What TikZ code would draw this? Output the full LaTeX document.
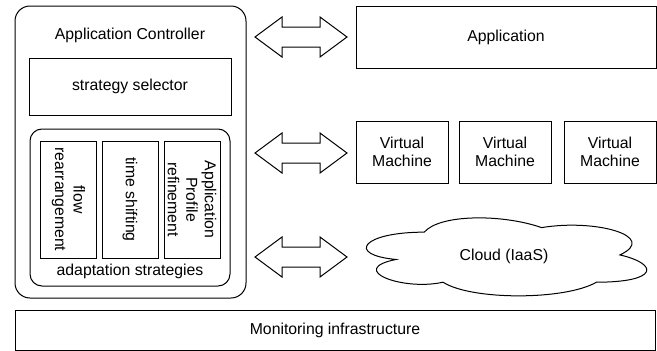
\documentclass[tikz,border=0pt]{standalone}
\usepackage{fontspec}
\setmainfont{Liberation Sans}
\begin{document}
\begin{tikzpicture}[x=1pt,y=-1pt,
  every node/.style={font=\fontsize{15.8pt}{18.5pt}\selectfont, inner sep=0pt, outer sep=0pt},
  box/.style={draw=black, line width=1pt, align=center},
  rbox/.style={draw=black, line width=1pt, rounded corners=#1},
  vtext/.style={rotate=-90, align=center},
  dbl/.pic={\draw[line width=1pt, line join=miter, fill=white]
     (-46,0) -- (-19,-20) -- (-19,-10) -- (19,-10) -- (19,-20) -- (46,0)
     -- (19,20) -- (19,10) -- (-19,10) -- (-19,20) -- cycle;}
]
\useasboundingbox (0,0) rectangle (657,351);

% Application controller
\node[rbox=15pt, minimum width=231pt, minimum height=292pt] (ctrl) at (130.5,152) {};
\node (ctrltxt) at (130,35) {Application Controller};
\node[box, minimum width=202pt, minimum height=57pt] (sel) at (130,86.5) {strategy selector};
\node[rbox=12pt, minimum width=200pt, minimum height=157pt] (adapt) at (130,207.5) {};
\node[box, minimum width=56pt, minimum height=117pt] (flow) at (68.5,199.5) {};
\node[vtext] (flowtxt) at (flow.center) {flow\\rearrangement};
\node[box, minimum width=56pt, minimum height=117pt] (time) at (130,199.5) {};
\node[vtext] (timetxt) at (time.center) {time shifting};
\node[box, minimum width=56pt, minimum height=117pt] (prof) at (192,199.5) {};
\node[vtext] (proftxt) at (prof.center) {Application\\Profile\\refinement};
\node (adapttxt) at (130,271) {adaptation strategies};

% right side
\node[box, minimum width=300pt, minimum height=62pt] (app) at (506,37) {Application};
\node[box, minimum width=92pt, minimum height=62pt] (vm1) at (402,152) {Virtual\\Machine};
\node[box, minimum width=92pt, minimum height=62pt] (vm2) at (505,152) {Virtual\\Machine};
\node[box, minimum width=92pt, minimum height=62pt] (vm3) at (610,152) {Virtual\\Machine};

% cloud
\begin{scope}[shift={(346,209.4)}, x=313pt, y=-91pt]
\draw[line width=1pt] (0.25,0.25)
  .. controls (0.05,0.25) and (0,0.5) .. (0.16,0.55)
  .. controls (0,0.66) and (0.18,0.9) .. (0.31,0.8)
  .. controls (0.4,1) and (0.7,1) .. (0.8,0.8)
  .. controls (1,0.8) and (1,0.6) .. (0.875,0.5)
  .. controls (1,0.3) and (0.8,0.1) .. (0.625,0.2)
  .. controls (0.5,0.05) and (0.3,0.05) .. (0.25,0.25) -- cycle;
\end{scope}
\node (cloud) at (504,256) {Cloud (IaaS)};

% double arrows
\pic at (301,37) {dbl};
\pic at (301,153) {dbl};
\pic at (301,257) {dbl};

% monitoring
\node[box, minimum width=640pt, minimum height=40pt] (mon) at (335,330) {Monitoring infrastructure};
\end{tikzpicture}
\end{document}
